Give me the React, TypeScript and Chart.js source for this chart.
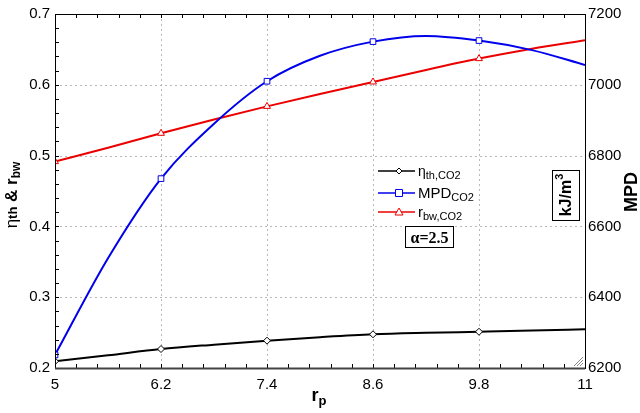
import React, { useEffect, useRef } from "react";
import { Chart, registerables } from "chart.js";

Chart.register(...registerables);

// Data
const rp = [5, 5.6, 6.2, 6.8, 7.4, 8.0, 8.6, 9.2, 9.8, 10.4, 11];
const etaTh = [0.2095, 0.218, 0.2268, 0.233, 0.2386, 0.2435, 0.2476, 0.2497, 0.2512, 0.2528, 0.2547];
const rbw = [0.4915, 0.511, 0.5315, 0.551, 0.5695, 0.587, 0.604, 0.621, 0.637, 0.651, 0.663];
const mpd = [6237, 6510, 6735, 6890, 7010, 7082, 7122, 7138, 7125, 7098, 7056];
const markerAt = [5, 6.2, 7.4, 8.6, 9.8];
const xTicks = [5, 6.2, 7.4, 8.6, 9.8, 11];
const yTicks = [0.2, 0.3, 0.4, 0.5, 0.6, 0.7];
const y1Ticks = [6200, 6400, 6600, 6800, 7000, 7200];

const SANS = '"Liberation Sans", Arial, sans-serif';
const SERIF = '"Liberation Serif", "Times New Roman", serif';
const BLUE = "rgb(0,0,235)";
const RED = "rgb(235,0,0)";

function drawSegments(ctx: CanvasRenderingContext2D, segs: { t: string; f: string; dy: number }[], x: number, y: number, align: "center" | "left") {
  let total = 0;
  for (const s of segs) { ctx.font = s.f; total += ctx.measureText(s.t).width; }
  let cx = align === "center" ? x - total / 2 : x;
  ctx.textAlign = "left";
  ctx.textBaseline = "alphabetic";
  for (const s of segs) {
    ctx.font = s.f;
    ctx.fillText(s.t, cx, y + s.dy);
    cx += ctx.measureText(s.t).width;
  }
}

const gridPlugin = {
  id: "dashedGrid",
  beforeDatasetsDraw(chart: any) {
    const ctx: CanvasRenderingContext2D = chart.ctx;
    const { left, right, top, bottom } = chart.chartArea;
    const xs = chart.scales.x;
    const ys = chart.scales.y;
    ctx.save();
    ctx.strokeStyle = "#b8b8b8";
    ctx.lineWidth = 1;
    ctx.setLineDash([2, 3]);
    ctx.beginPath();
    for (const v of xTicks.slice(1, -1)) {
      const px = Math.round(xs.getPixelForValue(v)) + 0.5;
      ctx.moveTo(px, top); ctx.lineTo(px, bottom);
    }
    for (const v of yTicks.slice(1, -1)) {
      const py = Math.round(ys.getPixelForValue(v)) + 0.5;
      ctx.moveTo(left, py); ctx.lineTo(right, py);
    }
    ctx.stroke();
    ctx.restore();
  },
};

const overlay = {
  id: "overlay",
  afterDraw(chart: any) {
    const ctx: CanvasRenderingContext2D = chart.ctx;
    const { left, right, top, bottom } = chart.chartArea;
    const xs = chart.scales.x;
    const ys = chart.scales.y;
    ctx.save();
    // minor ticks
    ctx.strokeStyle = "#000";
    ctx.lineWidth = 1;
    ctx.beginPath();
    for (let k = 1; k < 25; k++) {
      const px = Math.round(xs.getPixelForValue(5 + 0.24 * k)) + 0.5;
      ctx.moveTo(px, bottom); ctx.lineTo(px, bottom - 4);
      ctx.moveTo(px, top); ctx.lineTo(px, top + 4);
    }
    for (let k = 1; k < 25; k++) {
      const py = Math.round(ys.getPixelForValue(0.2 + 0.02 * k)) + 0.5;
      ctx.moveTo(left, py); ctx.lineTo(left + 4, py);
    }
    ctx.stroke();
    // frame
    ctx.strokeStyle = "#000";
    ctx.lineWidth = 1;
    ctx.strokeRect(Math.round(left) + 0.5, Math.round(top) + 0.5, Math.round(right - left), Math.round(bottom - top));
    ctx.strokeStyle = "#444";
    ctx.lineWidth = 2;
    ctx.beginPath();
    ctx.moveTo(left, Math.round(bottom) + 0.5);
    ctx.lineTo(right, Math.round(bottom) + 0.5);
    ctx.stroke();

    // resize grip
    ctx.strokeStyle = "#888";
    ctx.lineWidth = 1;
    ctx.beginPath();
    for (let i = 0; i < 3; i++) {
      const o = 3 + i * 3;
      ctx.moveTo(right - 2 - o, bottom - 2);
      ctx.lineTo(right - 2, bottom - 2 - o);
    }
    ctx.stroke();

    ctx.fillStyle = "#000";
    // x title
    drawSegments(ctx, [
      { t: "r", f: `bold 18px ${SANS}`, dy: 0 },
      { t: "p", f: `bold 13px ${SANS}`, dy: 4 },
    ], 319, 401, "center");

    // left title
    ctx.save();
    ctx.translate(17, 195);
    ctx.rotate(-Math.PI / 2);
    drawSegments(ctx, [
      { t: "η", f: `17px ${SANS}`, dy: 0 },
      { t: "th", f: `bold 13px ${SANS}`, dy: 0 },
      { t: " & ", f: `bold 17px ${SANS}`, dy: 0 },
      { t: "r", f: `bold 17px ${SANS}`, dy: 0 },
      { t: "bw", f: `bold 12px ${SANS}`, dy: 3 },
    ], 0, 0, "center");
    ctx.restore();

    // right title
    ctx.save();
    ctx.translate(637, 192);
    ctx.rotate(-Math.PI / 2);
    drawSegments(ctx, [{ t: "MPD", f: `bold 18px ${SANS}`, dy: 0 }], 0, 0, "center");
    ctx.restore();

    // kJ/m3 box
    ctx.lineWidth = 1;
    ctx.strokeStyle = "#000";
    ctx.strokeRect(552.5, 170.5, 27, 50);
    ctx.save();
    ctx.translate(571, 195);
    ctx.rotate(-Math.PI / 2);
    drawSegments(ctx, [
      { t: "kJ/m", f: `bold 16px ${SANS}`, dy: 0 },
      { t: "3", f: `bold 11px ${SANS}`, dy: -8 },
    ], 0, 0, "center");
    ctx.restore();

    // legend
    const items = [
      { color: "#000", y: 171, style: "diamond", main: "η", sub: "th,CO2", mainF: `14px ${SANS}` },
      { color: BLUE, y: 193, style: "square", main: "MPD", sub: "CO2", mainF: `15px ${SANS}` },
      { color: RED, y: 212, style: "triangle", main: "r", sub: "bw,CO2", mainF: `15px ${SANS}` },
    ];
    for (const it of items) {
      ctx.strokeStyle = it.color;
      ctx.lineWidth = 1.5;
      ctx.beginPath();
      ctx.moveTo(378, it.y); ctx.lineTo(415, it.y);
      ctx.stroke();
      ctx.fillStyle = "#fff";
      ctx.lineWidth = 1;
      ctx.beginPath();
      const mx = 399, my = it.y;
      if (it.style === "diamond") {
        ctx.moveTo(mx, my - 3); ctx.lineTo(mx + 3, my); ctx.lineTo(mx, my + 3); ctx.lineTo(mx - 3, my); ctx.closePath();
      } else if (it.style === "square") {
        ctx.rect(mx - 3.5, my - 3.5, 7, 7);
      } else {
        ctx.moveTo(mx, my - 4); ctx.lineTo(mx + 4, my + 3); ctx.lineTo(mx - 4, my + 3); ctx.closePath();
      }
      ctx.fill();
      ctx.stroke();
      ctx.fillStyle = "#000";
      drawSegments(ctx, [
        { t: it.main, f: it.mainF, dy: 0 },
        { t: it.sub, f: `11px ${SANS}`, dy: 3 },
      ], 418, it.y + 5, "left");
    }

    // alpha box
    ctx.strokeStyle = "#000";
    ctx.lineWidth = 1;
    ctx.strokeRect(405.5, 226.5, 48, 21);
    drawSegments(ctx, [{ t: "α=2.5", f: `bold 16px ${SERIF}`, dy: 0 }], 429.5, 243, "center");

    ctx.restore();
  },
};

export default function App() {
  const ref = useRef<HTMLCanvasElement | null>(null);
  useEffect(() => {
    if (!ref.current) return;
    const radius = (v: number, r: number) => (markerAt.includes(v) ? r : 0);
    const chart = new Chart(ref.current, {
      type: "line",
      data: {
        datasets: [
          {
            label: "eta",
            data: rp.map((x, i) => ({ x, y: etaTh[i] })),
            borderColor: "#000",
            backgroundColor: "#fff",
            borderWidth: 2,
            pointStyle: "rectRot",
            pointRadius: rp.map((v) => radius(v, 3.5)),
            pointBorderWidth: 1,
            cubicInterpolationMode: "monotone",
            yAxisID: "y",
          },
          {
            label: "mpd",
            data: rp.map((x, i) => ({ x, y: mpd[i] })),
            borderColor: BLUE,
            backgroundColor: "#fff",
            borderWidth: 2,
            pointStyle: "rect",
            pointRadius: rp.map((v) => radius(v, 4)),
            pointBorderWidth: 1,
            cubicInterpolationMode: "monotone",
            yAxisID: "y1",
          },
          {
            label: "rbw",
            data: rp.map((x, i) => ({ x, y: rbw[i] })),
            borderColor: RED,
            backgroundColor: "#fff",
            borderWidth: 2,
            pointStyle: "triangle",
            pointRadius: rp.map((v) => radius(v, 4)),
            pointBorderWidth: 1,
            cubicInterpolationMode: "monotone",
            yAxisID: "y",
          },
        ],
      },
      options: {
        animation: false,
        responsive: false,
        devicePixelRatio: 1,
        layout: { padding: { top: 14, left: 0, right: 0, bottom: 0 } },
        plugins: { legend: { display: false }, tooltip: { enabled: false } },
        scales: {
          x: {
            type: "linear",
            min: 5,
            max: 11,
            afterBuildTicks: (s: any) => { s.ticks = xTicks.map((v) => ({ value: v })); },
            afterFit: (s: any) => { s.height = 45; },
            ticks: {
              color: "#000",
              font: { family: SANS, size: 15 },
              padding: 8,
              maxRotation: 0,
              autoSkip: false,
              callback: (v: any) => String(Math.round(Number(v) * 10) / 10),
            },
            grid: { display: false, drawTicks: false },
            border: { display: false },
          },
          y: {
            type: "linear",
            position: "left",
            min: 0.2,
            max: 0.7,
            afterBuildTicks: (s: any) => { s.ticks = yTicks.map((v) => ({ value: v })); },
            afterFit: (s: any) => { s.width = 55; },
            ticks: {
              color: "#000",
              font: { family: SANS, size: 15 },
              padding: 5,
              callback: (v: any) => Number(v).toFixed(1),
            },
            grid: { display: false, drawTicks: false },
            border: { display: false },
          },
          y1: {
            type: "linear",
            position: "right",
            min: 6200,
            max: 7200,
            afterBuildTicks: (s: any) => { s.ticks = y1Ticks.map((v) => ({ value: v })); },
            afterFit: (s: any) => { s.width = 55; },
            ticks: {
              color: "#000",
              font: { family: SANS, size: 15 },
              padding: 3,
              callback: (v: any) => String(v),
            },
            grid: { display: false, drawTicks: false },
            border: { display: false },
          },
        },
      },
      plugins: [gridPlugin, overlay],
    } as any);
    return () => chart.destroy();
  }, []);
  return (
    <div style={{ position: "fixed", left: 0, top: 0, width: 640, height: 413, background: "#fff" }}>
      <canvas ref={ref} width={640} height={413} style={{ width: 640, height: 413, display: "block" }} />
    </div>
  );
}
